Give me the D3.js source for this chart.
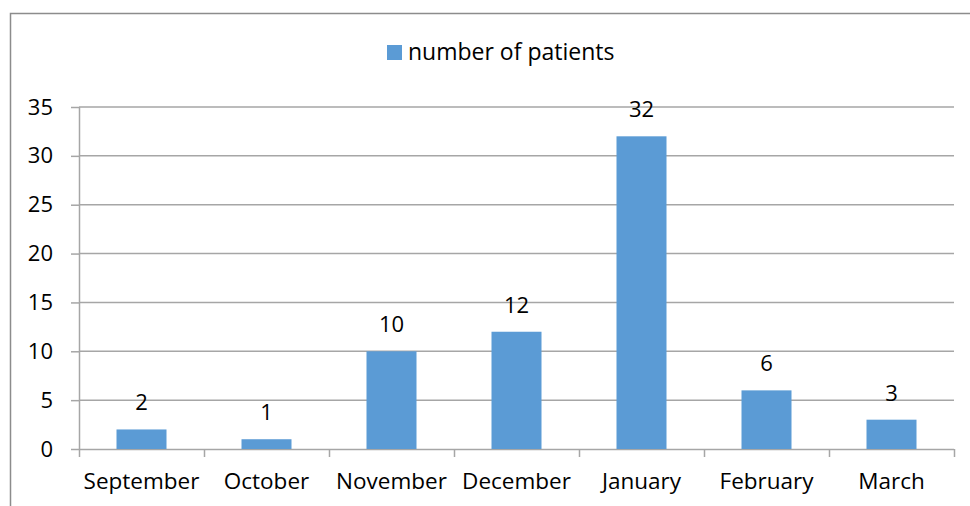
<!DOCTYPE html>
<html><head><meta charset="utf-8">
<script src="https://cdn.jsdelivr.net/npm/d3@7"></script>
<style>body{margin:0;background:#fff}svg{display:block}text{font-family:"Open Sans",sans-serif;fill:#000}</style>
</head><body><svg id="c" width="970" height="506"></svg>
<script>
const categories = ["September","October","November","December","January","February","March"];
const values = [2,1,10,12,32,6,3];
const seriesName = "number of patients";
const yTicks = [0,5,10,15,20,25,30,35];

const svg = d3.select("#c");
const L = 79, R = 954, T = 107, B = 449;
const color = "#5B9BD5", grid = "#A6A6A6";
const FONT = "'Open Sans', sans-serif";

svg.append("rect").attr("x",10.5).attr("y",13.5).attr("width",980).attr("height",520)
  .attr("fill","none").attr("stroke","#8C8C8C").attr("stroke-width",1.5);

const x = d3.scaleBand().domain(categories).range([L,R]).paddingInner(0.6).paddingOuter(0.3);
const y = d3.scaleLinear().domain([0,35]).range([B,T]);

// gridlines + y ticks
const gy = svg.append("g").attr("transform",`translate(${L},0)`)
  .call(d3.axisLeft(y).tickValues(yTicks).tickSize(8).tickPadding(18));
gy.select(".domain").attr("stroke",grid).attr("stroke-width",1.5).attr("d",`M0.5,${T}V${B}`);
gy.selectAll(".tick line").attr("stroke",grid).attr("stroke-width",1.5);
gy.selectAll(".tick text").attr("font-size",22).attr("font-family",FONT).attr("fill","#000");
svg.append("g").selectAll("line").data(yTicks.filter(d=>d>0)).join("line")
  .attr("x1",L).attr("x2",R).attr("y1",d=>y(d)).attr("y2",d=>y(d))
  .attr("stroke",grid).attr("stroke-width",1.5);

// x axis
const gx = svg.append("g").attr("transform",`translate(0,${B})`)
  .call(d3.axisBottom(x).tickSize(0).tickPadding(24));
gx.select(".domain").attr("stroke",grid).attr("stroke-width",1.5).attr("d",`M${L},0.5H${R}`);
gx.selectAll(".tick text").attr("font-size",22.5).attr("font-family",FONT).attr("fill","#000");
const bounds = categories.map((c,i)=>L + i*(R-L)/categories.length).concat([R]);
svg.append("g").selectAll("line").data(bounds).join("line")
  .attr("x1",d=>d+0.5).attr("x2",d=>d+0.5).attr("y1",B).attr("y2",B+8)
  .attr("stroke",grid).attr("stroke-width",1.5);

// bars
svg.append("g").selectAll("rect").data(values).join("rect")
  .attr("x",(d,i)=>x(categories[i])).attr("width",x.bandwidth())
  .attr("y",d=>y(d)).attr("height",d=>B-y(d)).attr("fill",color);

// labels
svg.append("g").selectAll("text").data(values).join("text")
  .attr("x",(d,i)=>x(categories[i])+x.bandwidth()/2).attr("y",d=>y(d)-19)
  .attr("text-anchor","middle").attr("font-size",22).text(d=>d);

// legend
const lg = svg.append("g");
lg.append("rect").attr("x",387).attr("y",45).attr("width",15).attr("height",15).attr("fill",color);
lg.append("text").attr("x",408).attr("y",60).attr("font-size",23).text(seriesName);
</script></body></html>
